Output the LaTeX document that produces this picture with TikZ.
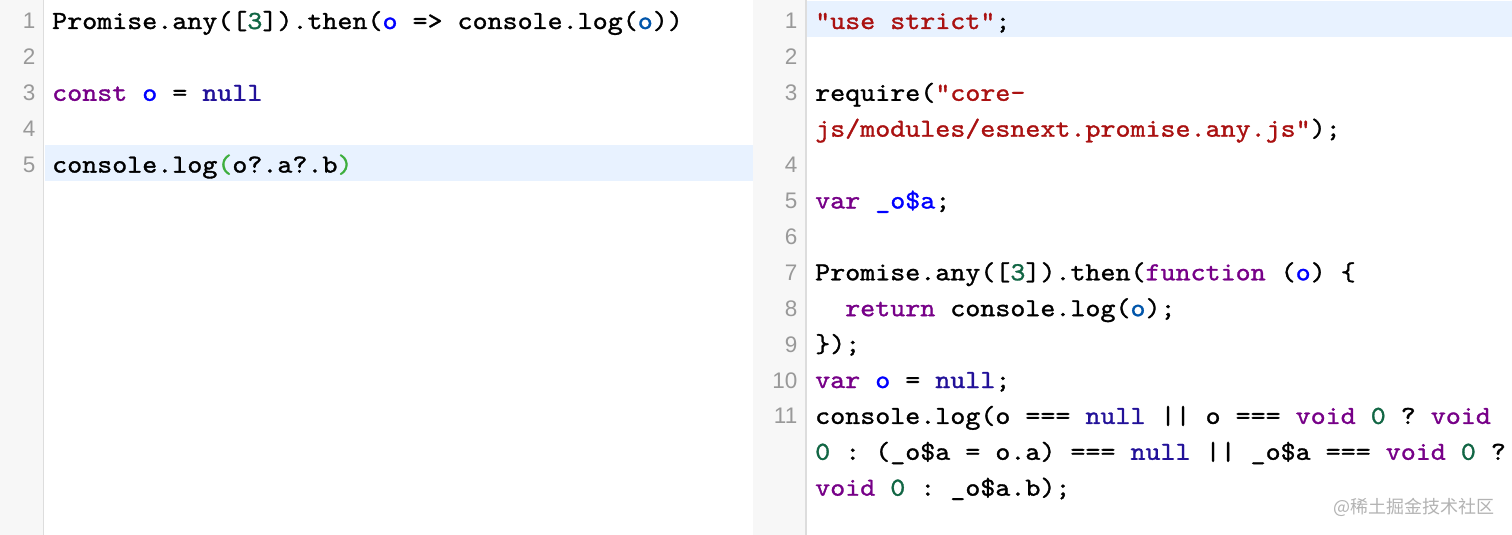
\documentclass[tikz,border=0pt]{standalone}
\usepackage{fontspec}
\newfontfamily\codefont[Extension=.otf,FakeBold=1.2,FakeStretch=1.1]{lmmono10-regular}
\newfontfamily\numfont{Liberation Sans}
\newfontfamily\cjkfont{Noto Sans CJK SC}
\definecolor{kw}{HTML}{770088}
\definecolor{df}{HTML}{0000FF}
\definecolor{vt}{HTML}{0055AA}
\definecolor{at}{HTML}{221199}
\definecolor{nm}{HTML}{116644}
\definecolor{st}{HTML}{AA1111}
\definecolor{mb}{HTML}{3DAE3D}
\definecolor{gutterbg}{HTML}{F7F7F7}
\definecolor{gutterline}{HTML}{DDDDDD}
\definecolor{numgray}{HTML}{999999}
\definecolor{hl}{HTML}{E8F2FF}
\definecolor{wm}{HTML}{B3B3B3}
\newcommand\cKw[1]{\textcolor{kw}{#1}}
\newcommand\cDf[1]{\textcolor{df}{#1}}
\newcommand\cVt[1]{\textcolor{vt}{#1}}
\newcommand\cAt[1]{\textcolor{at}{#1}}
\newcommand\cNm[1]{\textcolor{nm}{#1}}
\newcommand\cSt[1]{\textcolor{st}{#1}}
\newcommand\cMb[1]{\textcolor{mb}{#1}}
\tikzset{
  codeline/.style={anchor=base west, inner sep=0pt, font=\fontsize{26}{30}\codefont\frenchspacing, text=black},
  lnum/.style={anchor=base east, inner sep=0pt, font=\fontsize{22.5}{26}\numfont, text=numgray},
  gutter/.style={fill=gutterbg, draw=none},
  gline/.style={draw=gutterline, line width=1.2pt},
  hlrow/.style={fill=hl, draw=none}
}
\begin{document}
\begin{tikzpicture}[x=1pt,y=-1pt]
\useasboundingbox (0,0) rectangle (1512,535);
\fill[white] (0,0) rectangle (1512,535);
% gutters
\path[gutter] (0,0) rectangle (43.5,535);
\path[gutter] (753,0) rectangle (806,535);
\draw[gline] (43.5,0) -- (43.5,535);
\draw[gline] (806,0) -- (806,535);
% highlighted rows
\path[hlrow] (44.5,145) rectangle (753,181);
\path[hlrow] (807,1.5) rectangle (1512,37.5);
% left line numbers
\node[lnum] (l1) at (35.5,29) {1};
\node[lnum] (l2) at (35.5,64.9) {2};
\node[lnum] (l3) at (35.5,100.8) {3};
\node[lnum] (l4) at (35.5,136.7) {4};
\node[lnum] (l5) at (35.5,172.6) {5};
% left code
\node[codeline] (lc1) at (52,29) {Promise.any([\cNm{3}]).then(\cDf{o} => console.log(\cVt{o}))};
\node[codeline] (lc3) at (52,100.8) {\cKw{const} \cDf{o} = \cAt{null}};
\node[codeline] (lc5) at (52,172.6) {console.log\cMb{(}o?.a?.b\cMb{)}};
% right line numbers
\node[lnum] (r1) at (797.5,29) {1};
\node[lnum] (r2) at (797.5,64.9) {2};
\node[lnum] (r3) at (797.5,100.8) {3};
\node[lnum] (r4) at (797.5,172.6) {4};
\node[lnum] (r5) at (797.5,208.5) {5};
\node[lnum] (r6) at (797.5,244.4) {6};
\node[lnum] (r7) at (797.5,280.3) {7};
\node[lnum] (r8) at (797.5,316.2) {8};
\node[lnum] (r9) at (797.5,352.1) {9};
\node[lnum] (r10) at (797.5,388) {10};
\node[lnum] (r11) at (797.5,423.9) {11};
% right code
\node[codeline] (rc1) at (815,29) {\cSt{"use strict"};};
\node[codeline] (rc3) at (815,100.8) {require(\cSt{"core-}};
\node[codeline] (rc3b) at (815,136.7) {\cSt{js/modules/esnext.promise.any.js"});};
\node[codeline] (rc5) at (815,208.5) {\cKw{var} \cDf{\_o\$a};};
\node[codeline] (rc7) at (815,280.3) {Promise.any([\cNm{3}]).then(\cKw{function} (\cDf{o}) \{};
\node[codeline] (rc8) at (845,316.2) {\cKw{return} console.log(\cVt{o});};
\node[codeline] (rc9) at (815,352.1) {\});};
\node[codeline] (rc10) at (815,388) {\cKw{var} \cDf{o} = \cAt{null};};
\node[codeline] (rc11) at (815,423.9) {console.log(o === \cAt{null} || o === \cKw{void} \cNm{0} ? \cKw{void}};
\node[codeline] (rc11b) at (815,459.8) {\cNm{0} : (\_o\$a = o.a) === \cAt{null} || \_o\$a === \cKw{void} \cNm{0} ?};
\node[codeline] (rc11c) at (815,495.7) {\cKw{void} \cNm{0} : \_o\$a.b);};
% watermark
\node[anchor=east, inner sep=0pt, font=\fontsize{18}{20}\cjkfont, text=wm] (wmark) at (1495,507) {@稀土掘金技术社区};
\end{tikzpicture}
\end{document}
